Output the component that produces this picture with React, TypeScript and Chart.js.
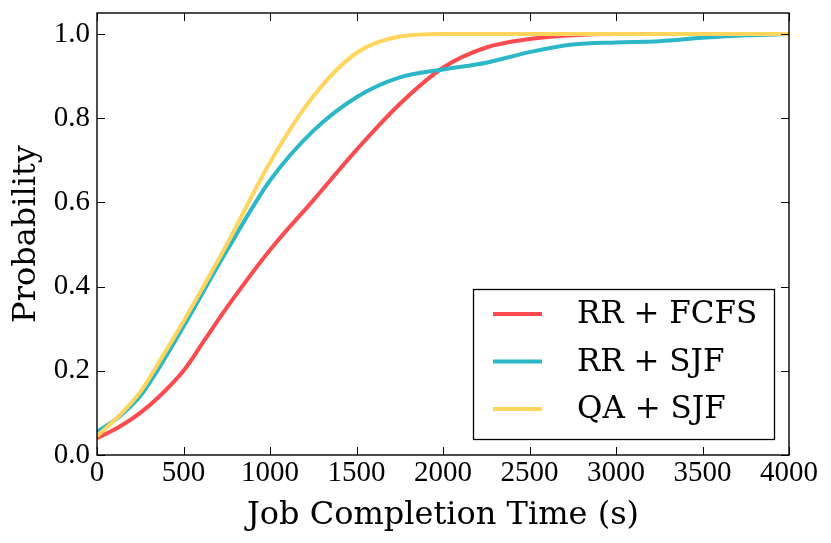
import { useEffect, useRef } from 'react';
import { Chart, registerables } from 'chart.js';

Chart.register(...registerables);

// values
const xTicks = [0, 500, 1000, 1500, 2000, 2500, 3000, 3500, 4000];
const yTicks = [0, 0.2, 0.4, 0.6, 0.8, 1.0];

const fcfsX = [0, 125, 250, 375, 500, 625, 750, 1000, 1250, 1500, 1750, 2000, 2250, 2500, 2750, 3000, 4000];
const fcfsY = [0.04, 0.066, 0.1, 0.145, 0.2, 0.275, 0.35, 0.487, 0.605, 0.725, 0.834, 0.92, 0.968, 0.988, 0.997, 1.0, 1.0];

const rrSjfX = [0, 125, 250, 375, 500, 750, 1000, 1250, 1500, 1750, 2000, 2250, 2500, 2750, 3000, 3250, 3500, 3750, 4000];
const rrSjfY = [0.055, 0.09, 0.14, 0.218, 0.305, 0.485, 0.652, 0.77, 0.85, 0.897, 0.916, 0.932, 0.957, 0.975, 0.98, 0.983, 0.991, 0.997, 1.0];

const qaSjfX = [0, 125, 250, 375, 500, 750, 1000, 1250, 1500, 1750, 2000, 2500, 3000, 4000];
const qaSjfY = [0.045, 0.092, 0.15, 0.232, 0.318, 0.5, 0.695, 0.852, 0.955, 0.994, 1.0, 1.0, 1.0, 1.0];

const seriesNames = ['RR + FCFS', 'RR + SJF', 'QA + SJF'];
const seriesColors = ['#fb4b4e', '#2cb7c9', '#ffd55e'];

const toPoints = (xs: number[], ys: number[]) => xs.map((x, i) => ({ x, y: ys[i] }));

const labelFont = '"DejaVu Serif", serif';
const tickFont = '"Liberation Serif", serif';

// frame, inward ticks on all four sides and the boxed legend
const framePlugin = {
  id: 'frame',
  afterDraw(chart: any) {
    const { ctx, chartArea: a, scales } = chart;
    const tl = 8;
    ctx.save();
    ctx.strokeStyle = '#000';
    ctx.lineWidth = 1;
    ctx.beginPath();
    xTicks.forEach(v => {
      const px = Math.round(scales.x.getPixelForValue(v)) + 0.5;
      ctx.moveTo(px, a.bottom); ctx.lineTo(px, a.bottom - tl);
      ctx.moveTo(px, a.top); ctx.lineTo(px, a.top + tl);
    });
    yTicks.forEach(v => {
      const py = Math.round(scales.y.getPixelForValue(v)) + 0.5;
      ctx.moveTo(a.left, py); ctx.lineTo(a.left + tl, py);
      ctx.moveTo(a.right, py); ctx.lineTo(a.right - tl, py);
    });
    ctx.stroke();
    ctx.lineWidth = 1.4;
    ctx.strokeRect(a.left, a.top, a.right - a.left, a.bottom - a.top);

    // legend
    const lx = 473, ly = 289, lw = 301, lh = 150;
    ctx.fillStyle = '#fff';
    ctx.fillRect(lx, ly, lw, lh);
    ctx.strokeStyle = '#000';
    ctx.lineWidth = 1.3;
    ctx.strokeRect(lx + 0.5, ly + 0.5, lw, lh);
    ctx.font = `31px ${labelFont}`;
    ctx.textBaseline = 'middle';
    ctx.textAlign = 'left';
    seriesNames.forEach((name, i) => {
      const yy = 314 + i * 47.5;
      ctx.strokeStyle = seriesColors[i];
      ctx.lineWidth = 4;
      ctx.beginPath();
      ctx.moveTo(493, yy);
      ctx.lineTo(542, yy);
      ctx.stroke();
      ctx.fillStyle = '#000';
      ctx.fillText(name, 577, yy + 1);
    });
    ctx.restore();
  },
};

export default function App() {
  const canvasRef = useRef<HTMLCanvasElement>(null);

  useEffect(() => {
    if (!canvasRef.current) return;
    const series = [toPoints(fcfsX, fcfsY), toPoints(rrSjfX, rrSjfY), toPoints(qaSjfX, qaSjfY)];

    const chart = new Chart(canvasRef.current, {
      type: 'line',
      data: {
        datasets: series.map((pts, i) => ({
          label: seriesNames[i],
          data: pts,
          borderColor: seriesColors[i],
          backgroundColor: seriesColors[i],
          borderWidth: 4,
          pointRadius: 0,
          cubicInterpolationMode: 'monotone' as const,
          fill: false,
          order: 3 - i,
        })),
      },
      options: {
        animation: false,
        responsive: true,
        maintainAspectRatio: false,
        layout: { padding: { top: 13, right: 42, bottom: 0, left: 0 } },
        plugins: {
          legend: { display: false },
          tooltip: { enabled: false },
        },
        scales: {
          x: {
            type: 'linear',
            min: 0,
            max: 4000,
            afterBuildTicks: (s: any) => { s.ticks = xTicks.map(v => ({ value: v })); },
            afterFit: (s: any) => { s.height = 88; s.paddingLeft = 0; s.paddingRight = 0; },
            grid: { display: false, drawTicks: false },
            border: { display: false },
            ticks: {
              padding: 1,
              color: '#000',
              font: { family: tickFont, size: 29 },
              maxRotation: 0,
              autoSkip: false,
              callback: (v: any) => String(v),
            },
            title: {
              display: true,
              text: 'Job Completion Time (s)',
              color: '#000',
              font: { family: labelFont, size: 32 },
              padding: { top: 0, bottom: 8 },
            },
          },
          y: {
            type: 'linear',
            min: 0,
            max: 1.05,
            afterBuildTicks: (s: any) => { s.ticks = yTicks.map(v => ({ value: v })); },
            afterFit: (s: any) => { s.width = 97; s.paddingTop = 0; s.paddingBottom = 0; },
            grid: { display: false, drawTicks: false },
            border: { display: false },
            ticks: {
              padding: 7,
              color: '#000',
              font: { family: tickFont, size: 29 },
              autoSkip: false,
              callback: (v: any) => Number(v).toFixed(1),
            },
            title: {
              display: true,
              text: 'Probability',
              color: '#000',
              font: { family: labelFont, size: 32 },
              padding: { top: 7, bottom: 0 },
            },
          },
        },
      },
      plugins: [framePlugin],
    });

    return () => chart.destroy();
  }, []);

  return (
    <div style={{ position: 'fixed', left: 0, top: 0, width: 831, height: 543, background: '#fff' }}>
      <canvas ref={canvasRef} />
    </div>
  );
}
